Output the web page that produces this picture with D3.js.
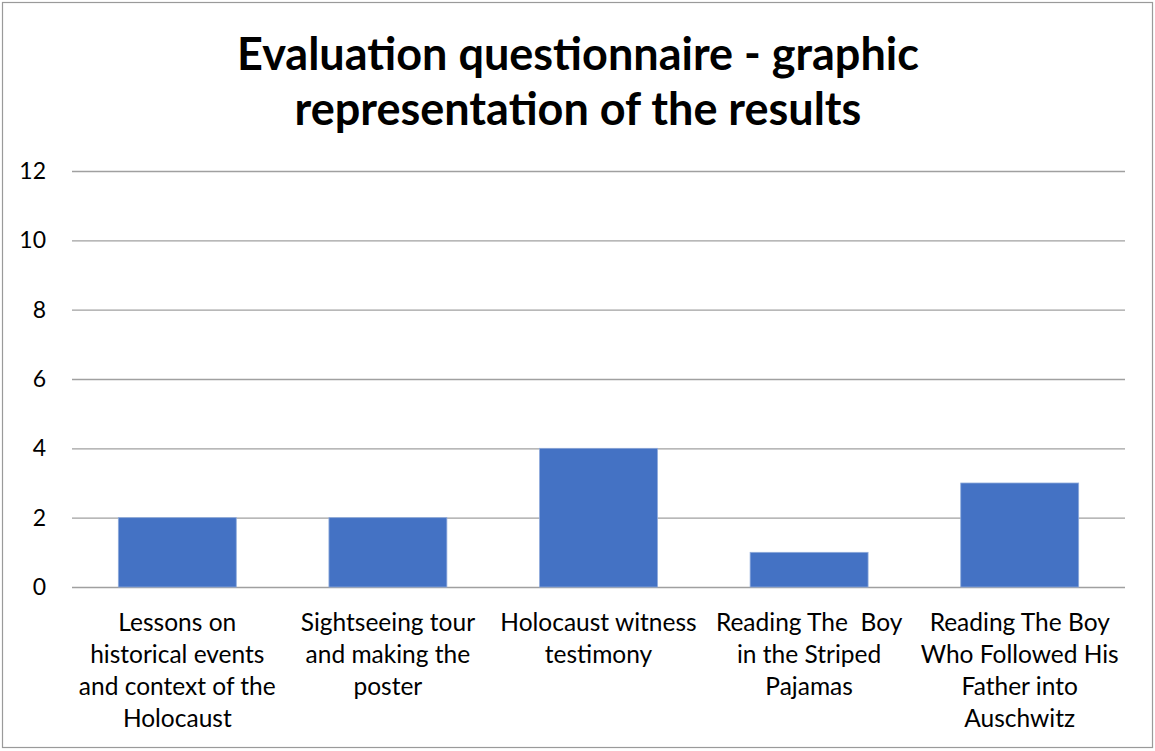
<!DOCTYPE html>
<html><head><meta charset="utf-8">
<script src="https://cdn.jsdelivr.net/npm/d3@7"></script>
<style>
html,body{margin:0;padding:0;background:#fff;}
text{font-family:Lato,"Open Sans",sans-serif;}
</style></head>
<body>
<svg id="chart" width="1155" height="751"></svg>
<script>
const titleLines = ["Evaluation questionnaire - graphic", "representation of the results"];
const categories = [
  ["Lessons on", "historical events", "and context of the", "Holocaust"],
  ["Sightseeing tour", "and making the", "poster"],
  ["Holocaust witness", "testimony"],
  ["Reading The  Boy", "in the Striped", "Pajamas"],
  ["Reading The Boy", "Who Followed His", "Father into", "Auschwitz"]
];
const values = [2, 2, 4, 1, 3];
const yTicks = [0, 2, 4, 6, 8, 10, 12];

(function () {
const svg = d3.select("#chart");
svg.append("rect").attr("x", 2.5).attr("y", 2.5).attr("width", 1150).attr("height", 745)
  .attr("fill", "#fff").attr("stroke", "#9a9a9a").attr("stroke-width", 1.2);

const plotLeft = 72, plotRight = 1125, plotTop = 171, plotBottom = 587;
const ids = categories.map((c, i) => i);
const x = d3.scaleBand().domain(ids).range([plotLeft, plotRight]).paddingInner(0.44).paddingOuter(0.22);
const y = d3.scaleLinear().domain([0, 12]).range([plotBottom, plotTop]);

// title
svg.append("g").selectAll("text").data(titleLines).join("text")
  .attr("x", 578).attr("y", (d, i) => 70 + i * 55)
  .attr("text-anchor", "middle").attr("font-weight", "bold").attr("font-size", 45)
  .attr("fill", "#000").text(d => d);

// gridlines
const yAxis = d3.axisLeft(y).tickValues(yTicks).tickSize(-(plotRight - plotLeft)).tickPadding(26);
const gy = svg.append("g").attr("transform", `translate(${plotLeft},0)`).call(yAxis);
gy.select(".domain").remove();
gy.selectAll(".tick line").attr("stroke", "#a0a0a0").attr("stroke-width", 1.3);
gy.selectAll(".tick text").attr("font-size", 23).attr("fill", "#000")
  .attr("font-family", "Lato, 'Open Sans', sans-serif");

// bars
svg.append("g").selectAll("rect").data(values).join("rect")
  .attr("x", (d, i) => x(i)).attr("width", x.bandwidth())
  .attr("y", d => y(d)).attr("height", d => y(0) - y(d))
  .attr("fill", "#4472C4").attr("stroke", "#8eaadb").attr("stroke-width", 0.8);

// category labels
const gx = svg.append("g");
categories.forEach((lines, i) => {
  const t = gx.append("text").attr("text-anchor", "middle").attr("font-size", 24.5)
    .attr("fill", "#000").style("white-space", "pre");
  lines.forEach((ln, j) => {
    t.append("tspan").attr("x", x(i) + x.bandwidth() / 2).attr("y", 631 + j * 32).text(ln);
  });
});
})();
</script>
</body></html>
